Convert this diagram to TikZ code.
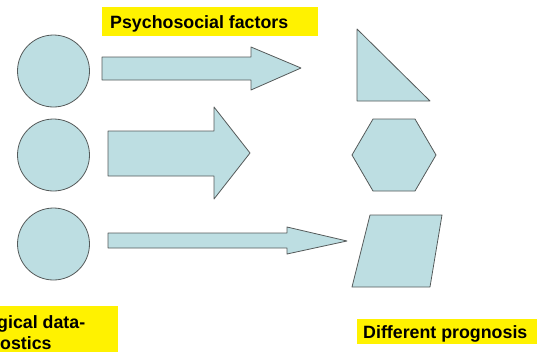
\documentclass[tikz,border=0pt]{standalone}
\usepackage{fontspec}
\setmainfont{Liberation Sans}
\definecolor{shapefill}{RGB}{189,222,226}
\definecolor{shapeline}{RGB}{85,90,90}
\begin{document}
\begin{tikzpicture}[x=1pt,y=-1pt]
\tikzstyle{blob}=[draw=shapeline,fill=shapefill,line width=0.8pt,line join=round]
\tikzstyle{lbl}=[inner sep=0pt,anchor=base west,font=\fontsize{17.8}{21}\selectfont\bfseries]
\useasboundingbox (0,0) rectangle (541,351);
% circles
\draw [blob] (53.5,71) circle (36);
\draw [blob] (53.5,155) circle (36);
\draw [blob] (53.5,244) circle (36);
% block arrows
\draw [blob] (102,57) -- (251,57) -- (251,47) -- (301,68) -- (251,90) -- (251,80) -- (102,80) -- cycle;
\draw [blob] (108,131) -- (214,131) -- (214,107) -- (250,153) -- (214,199) -- (214,176) -- (108,176) -- cycle;
\draw [blob] (108,233) -- (287,233) -- (287,227) -- (347,241) -- (287,254) -- (287,248) -- (108,248) -- cycle;
% outcomes
\draw [blob] (357,29) -- (357,101) -- (430,101) -- cycle;
\draw [blob] (352,155) -- (373,119) -- (415,119) -- (436,155) -- (415,191) -- (373,191) -- cycle;
\draw [blob] (370,215) -- (442,215) -- (430,287) -- (352,287) -- cycle;
% labels
\fill [yellow] (102,7) rectangle (318,36);
\draw (110,28) node [lbl] (psy) {Psychosocial factors};
\fill [yellow] (357,319) rectangle (537,344);
\draw (363,338) node [lbl] (prog) {Different prognosis};
\fill [yellow] (-5,306) rectangle (118,356);
\draw (-3,328) node [lbl] (bio1) {gical data-};
\draw (0,349) node [lbl] (bio2) {ostics};
\end{tikzpicture}
\end{document}
